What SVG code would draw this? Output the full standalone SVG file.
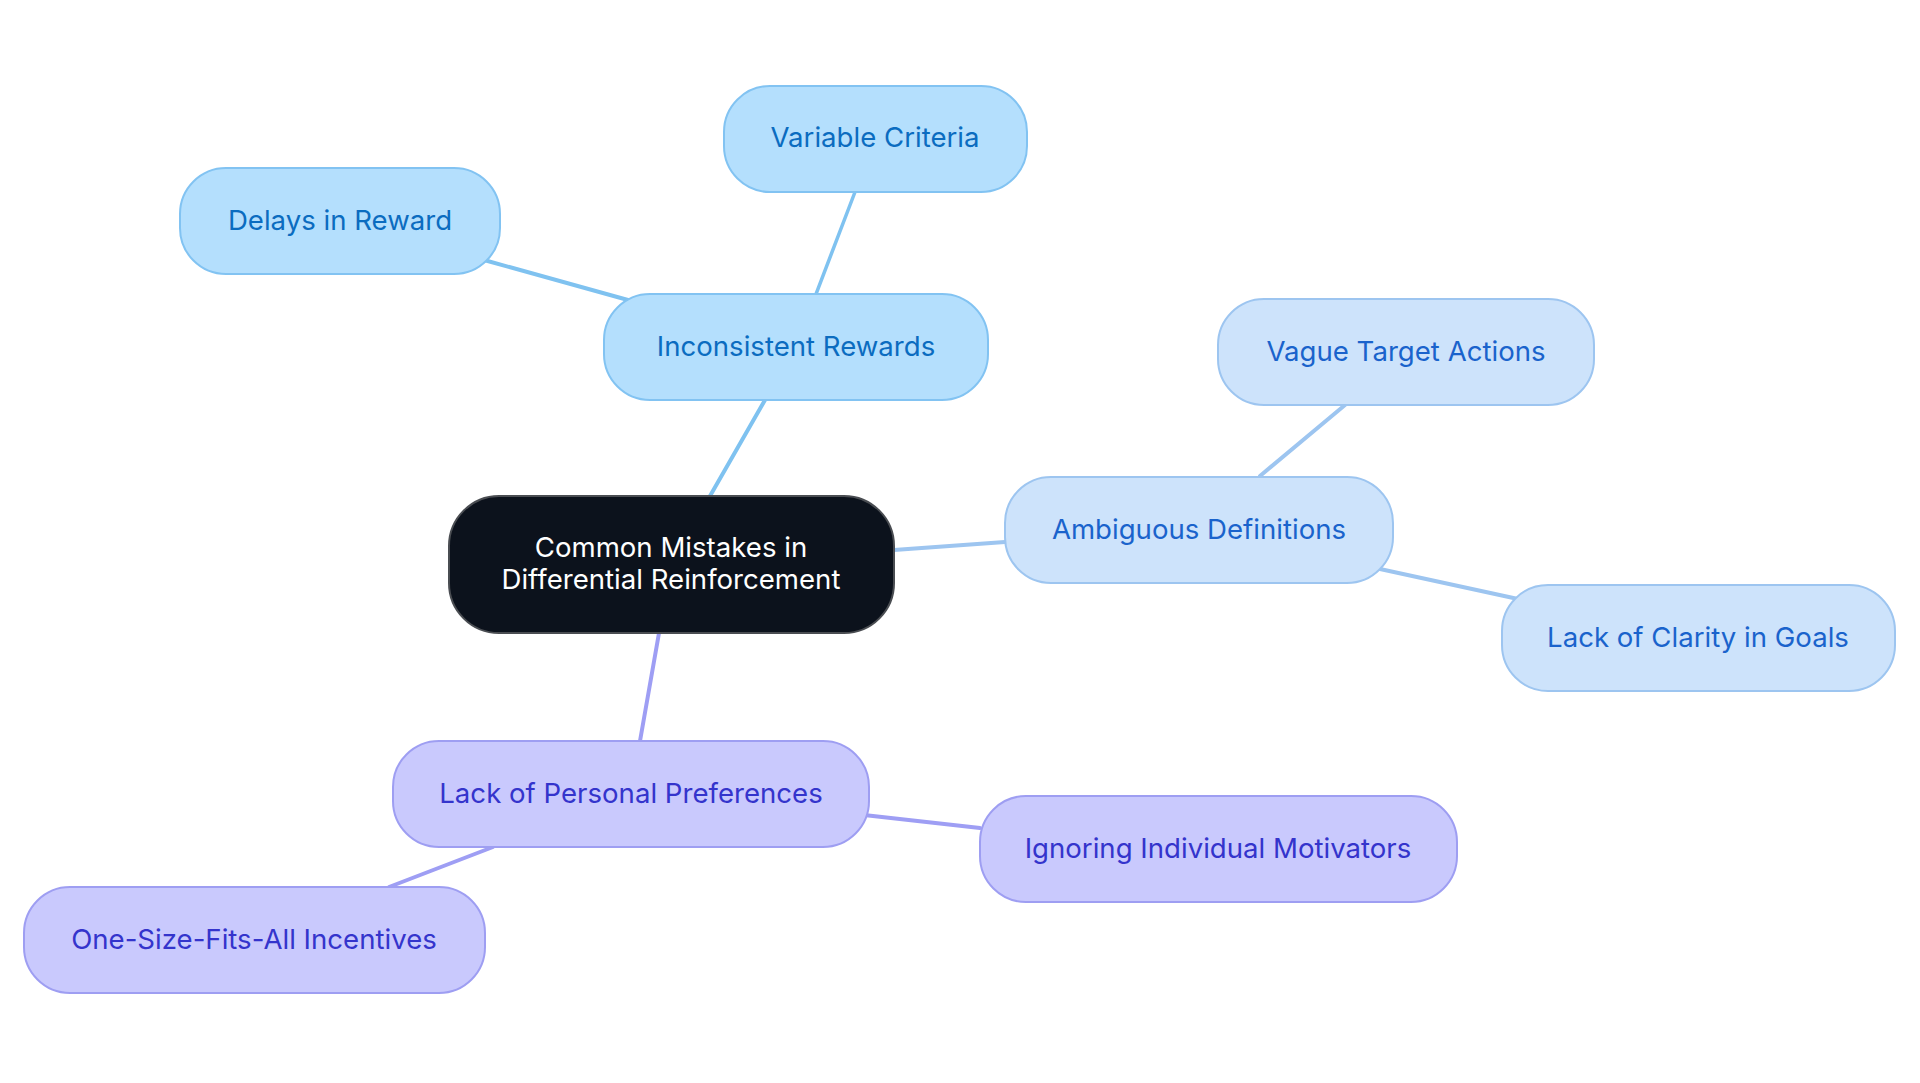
<svg xmlns="http://www.w3.org/2000/svg" width="1920" height="1083" viewBox="0 0 1920 1083">
<style>
text{font-family:Inter,"Noto Sans",sans-serif;font-size:27.6px;text-anchor:middle;dominant-baseline:central}
.e{fill:none;stroke-width:4;stroke-linecap:round}
.eb{stroke:#7fc2f0}.ea{stroke:#9dc5f0}.ep{stroke:#9e9ef4}
.nb rect{fill:#b4dffd;stroke:#82c3f2;stroke-width:2}.nb text{fill:#0b6cc0}
.na rect{fill:#cde3fb;stroke:#9dc5f0;stroke-width:2}.na text{fill:#1a63cc}
.np rect{fill:#c9c9fd;stroke:#9e9ef2;stroke-width:2}.np text{fill:#3434cc}
.root rect{fill:#0c121c;stroke:#4a4d52;stroke-width:2}.root text{fill:#ffffff}
</style>
<rect width="1920" height="1083" fill="#ffffff"/>
<g id="connectors">
<line class="e eb" x1="710" y1="496" x2="765" y2="400"/>
<line class="e eb" x1="816" y1="294" x2="855" y2="192" style="stroke-width:3.5"/>
<line class="e eb" x1="628" y1="300" x2="484" y2="260"/>
<line class="e ea" x1="894" y1="550" x2="1005" y2="542"/>
<line class="e ea" x1="1260" y1="476" x2="1345" y2="405"/>
<line class="e ea" x1="1380" y1="569" x2="1518" y2="599"/>
<line class="e ep" x1="659" y1="633" x2="640" y2="741"/>
<line class="e ep" x1="864" y1="815" x2="980" y2="828"/>
<line class="e ep" x1="493" y1="847" x2="389" y2="887"/>
</g>
<g id="root" class="root">
<rect x="449" y="496" width="445" height="137" rx="50"/>
<text x="671" y="547">Common Mistakes in</text>
<text x="671" y="579">Differential Reinforcement</text>
</g>
<g id="n-inconsistent" class="nb">
<rect x="604" y="294" width="384" height="106" rx="46"/>
<text x="796" y="346">Inconsistent Rewards</text>
</g>
<g id="n-variable" class="nb">
<rect x="724" y="86" width="303" height="106" rx="46"/>
<text x="875" y="137">Variable Criteria</text>
</g>
<g id="n-delays" class="nb">
<rect x="180" y="168" width="320" height="106" rx="46"/>
<text x="340" y="220">Delays in Reward</text>
</g>
<g id="n-ambiguous" class="na">
<rect x="1005" y="477" width="388" height="106" rx="46"/>
<text x="1199" y="529">Ambiguous Definitions</text>
</g>
<g id="n-vague" class="na">
<rect x="1218" y="299" width="376" height="106" rx="46"/>
<text x="1406" y="351">Vague Target Actions</text>
</g>
<g id="n-clarity" class="na">
<rect x="1502" y="585" width="393" height="106" rx="46"/>
<text x="1698" y="637">Lack of Clarity in Goals</text>
</g>
<g id="n-personal" class="np">
<rect x="393" y="741" width="476" height="106" rx="46"/>
<text x="631" y="793">Lack of Personal Preferences</text>
</g>
<g id="n-ignoring" class="np">
<rect x="980" y="796" width="477" height="106" rx="46"/>
<text x="1218" y="848">Ignoring Individual Motivators</text>
</g>
<g id="n-onesize" class="np">
<rect x="24" y="887" width="461" height="106" rx="46"/>
<text x="254" y="939">One-Size-Fits-All Incentives</text>
</g>
</svg>
